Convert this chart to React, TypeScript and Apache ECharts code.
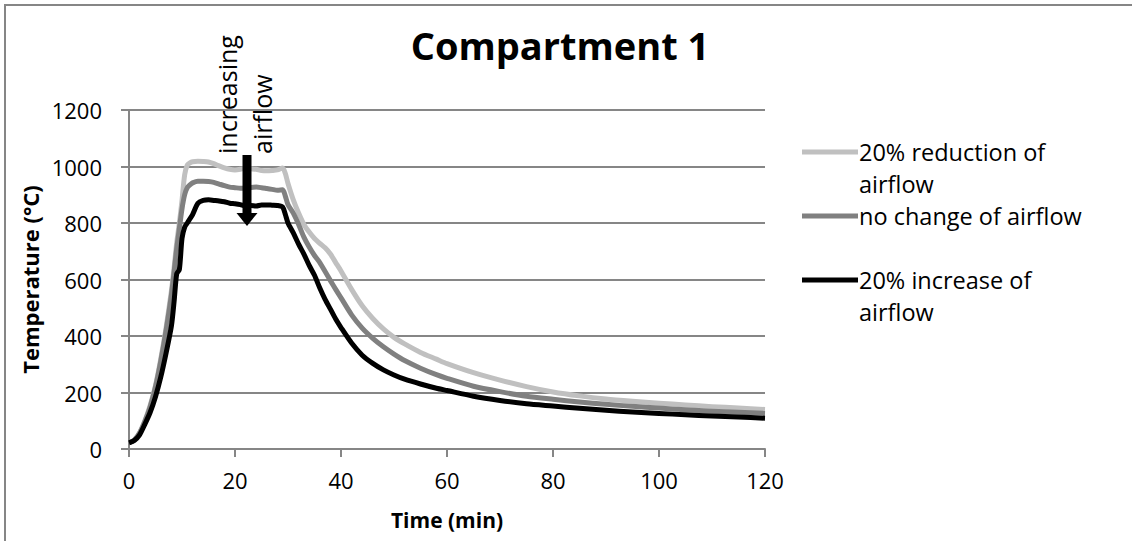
import React, { useEffect, useRef } from "react";
import * as echarts from "echarts";

// Time after ignition (min)
const times = [
  0, 1, 2, 3, 4, 5, 6, 7, 8, 8.5, 9, 9.5, 10, 10.5, 11, 11.5, 12, 13, 14, 15, 16, 17, 18, 19, 20,
  21, 22, 23, 24, 25, 26, 27, 28, 29, 29.5, 30, 31, 32, 33, 34, 35, 36, 37, 38, 39, 40, 42, 44, 46,
  48, 50, 52, 55, 58, 60, 65, 70, 75, 80, 85, 90, 95, 100, 105, 110, 115, 120,
];

// Gas temperature (°C) for each ventilation case
const reductionTemps = [
  22, 32, 58, 100, 155, 225, 320, 430, 560, 640, 730, 800, 880, 970, 1005, 1013, 1017, 1019, 1018, 1016, 1010, 1002, 995, 990, 988,
  990, 994, 992, 990, 986, 985, 986, 988, 995, 975, 940, 882, 835, 795, 768, 745, 728, 712, 690, 660, 630, 565, 507, 462,
  425, 395, 372, 342, 318, 302, 270, 244, 221, 202, 188, 177, 169, 162, 156, 150, 145, 140,
];
const noChangeTemps = [
  22, 32, 57, 98, 150, 220, 312, 420, 545, 625, 710, 780, 850, 900, 925, 935, 942, 948, 948, 947, 944, 938, 932, 927, 925,
  923, 924, 926, 927, 925, 922, 919, 916, 918, 895, 865, 835, 795, 750, 715, 685, 660, 628, 596, 565, 535, 475, 428, 392,
  362, 336, 313, 286, 263, 250, 222, 203, 187, 176, 166, 158, 151, 145, 139, 134, 130, 126,
];
const increaseTemps = [
  22, 30, 50, 88, 130, 185, 255, 340, 435, 520, 620, 635, 745, 785, 800, 815, 830, 870, 880, 882, 880, 878, 875, 870, 868,
  865, 860, 862, 860, 864, 864, 863, 862, 856, 830, 800, 765, 725, 690, 650, 615, 570, 530, 495, 460, 430, 375, 332, 303,
  280, 262, 247, 230, 215, 207, 187, 172, 160, 152, 144, 137, 131, 126, 121, 117, 113, 109,
];

const seriesNames = ["20% reduction of\nairflow", "no change of airflow", "20% increase of\nairflow"];
const seriesColors = ["#c0c0c0", "#808080", "#000000"];
const seriesValues = [reductionTemps, noChangeTemps, increaseTemps];

const FONT = "'Open Sans', 'Noto Sans', sans-serif";
const GRID_GRAY = "#868686";

export default function App() {
  const ref = useRef<HTMLDivElement>(null);

  useEffect(() => {
    if (!ref.current) return;
    const chart = echarts.init(ref.current, undefined, { renderer: "svg" });

    const series = seriesValues.map((vals, i) => ({
      name: seriesNames[i],
      type: "line" as const,
      data: times.map((t, k) => [t, vals[k]]),
      showSymbol: false,
      smooth: 0.25,
      lineStyle: { color: seriesColors[i], width: 5, cap: "butt" as const, join: "round" as const },
      itemStyle: { color: seriesColors[i] },
      z: 2 + i,
    }));

    // Legend drawn as line swatches with wrapped labels
    const legendRows = [
      { y: 152, lines: ["20% reduction of", "airflow"] },
      { y: 216, lines: ["no change of airflow"] },
      { y: 280, lines: ["20% increase of", "airflow"] },
    ];
    const legendGraphics: any[] = [];
    legendRows.forEach((row, i) => {
      legendGraphics.push({
        type: "line",
        shape: { x1: 802, y1: row.y, x2: 858, y2: row.y },
        style: { stroke: seriesColors[i], lineWidth: 5 },
      });
      row.lines.forEach((txt, j) => {
        legendGraphics.push({
          type: "text",
          x: 859,
          y: row.y + j * 32,
          style: {
            text: txt,
            font: `23.5px ${FONT}`,
            fill: "#000",
            align: "left",
            verticalAlign: "middle",
          },
        });
      });
    });

    chart.setOption({
      animation: false,
      backgroundColor: "#ffffff",
      title: {
        text: "Compartment 1",
        left: 555,
        top: 21,
        textAlign: "center",
        textStyle: { fontFamily: FONT, fontWeight: "bold", fontSize: 38, color: "#000" },
      },
      grid: { left: 129, right: 367, top: 110, bottom: 92 },
      xAxis: {
        type: "value",
        min: 0,
        max: 120,
        interval: 20,
        name: "Time (min)",
        nameLocation: "middle",
        nameGap: 60,
        nameTextStyle: { fontFamily: FONT, fontWeight: "bold", fontSize: 21, color: "#000" },
        axisLine: { lineStyle: { color: GRID_GRAY, width: 2 } },
        axisTick: { show: true, length: 8, lineStyle: { color: GRID_GRAY, width: 2 } },
        axisLabel: { fontFamily: FONT, fontSize: 22, color: "#000", margin: 20, formatter: (v: number) => String(v) },
        splitLine: { show: false },
      },
      yAxis: {
        type: "value",
        min: 0,
        max: 1200,
        interval: 200,
        name: "Temperature (°C)",
        nameLocation: "middle",
        nameGap: 86,
        nameTextStyle: { fontFamily: FONT, fontWeight: "bold", fontSize: 22, color: "#000" },
        axisLine: { show: true, lineStyle: { color: GRID_GRAY, width: 2 } },
        axisTick: { show: true, length: 8, lineStyle: { color: GRID_GRAY, width: 2 } },
        axisLabel: { fontFamily: FONT, fontSize: 22, color: "#000", margin: 27, formatter: (v: number) => String(v) },
        splitLine: { show: true, lineStyle: { color: GRID_GRAY, width: 2 } },
      },
      series,
      graphic: [
        // chart frame
        {
          type: "rect",
          shape: { x: 5, y: 5, width: 1200, height: 700 },
          style: { fill: "none", stroke: GRID_GRAY, lineWidth: 2 },
          silent: true,
        },
        // annotation: rotated caption and downward arrow
        {
          type: "text",
          x: 227,
          y: 154,
          rotation: Math.PI / 2,
          style: {
            text: "increasing",
            font: `25px ${FONT}`,
            fill: "#000",
            align: "left",
            verticalAlign: "middle",
          },
          z: 10,
        },
        {
          type: "text",
          x: 262,
          y: 154,
          rotation: Math.PI / 2,
          style: {
            text: "airflow",
            font: `25px ${FONT}`,
            fill: "#000",
            align: "left",
            verticalAlign: "middle",
          },
          z: 10,
        },
        {
          type: "rect",
          shape: { x: 242.5, y: 155, width: 9, height: 59 },
          style: { fill: "#000" },
          z: 10,
        },
        {
          type: "polygon",
          shape: { points: [[236.5, 213], [257.5, 213], [247, 226]] },
          style: { fill: "#000" },
          z: 10,
        },
        ...legendGraphics,
      ],
    });

    return () => chart.dispose();
  }, []);

  return (
    <div
      ref={ref}
      style={{ position: "fixed", left: 0, top: 0, width: 1132, height: 541, background: "#fff" }}
    />
  );
}
